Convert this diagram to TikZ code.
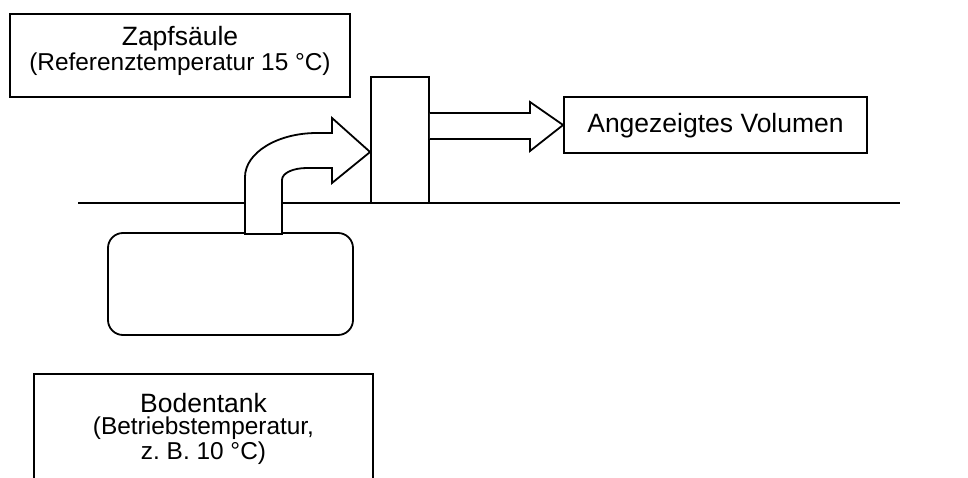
\documentclass[tikz,border=0pt]{standalone}
\usepackage{fontspec}
\setmainfont{Liberation Sans}
\frenchspacing
\begin{document}
\begin{tikzpicture}[x=1pt,y=-1pt,
  line width=1.8pt, line join=miter,
  box/.style={draw, rectangle, inner sep=0pt, line width=1.8pt},
  ttl/.style={inner sep=0pt, font=\fontsize{26.5}{26}\selectfont},
  sub/.style={inner sep=0pt, font=\fontsize{24.4}{25}\selectfont, align=center}]
\useasboundingbox (0,0) rectangle (968,478);
\fill[white] (0,0) rectangle (968,478);
% ground line
\coordinate (gl) at (78,203);
\coordinate (gr) at (900,203);
\draw (gl) -- (gr);
% boxes
\node[box, minimum width=340pt, minimum height=83pt] (zapf) at (180,55.5) {};
\node[ttl] (zapft) at (180,39) {Zapfsäule};
\node[sub] (zapfs) at (180,64) {(Referenztemperatur 15 °C)};
\node[box, fill=white, minimum width=58pt, minimum height=126pt] (meter) at (400,140) {};
\node[box, minimum width=303pt, minimum height=56pt] (vol) at (715.5,125) {};
\node[ttl] (volt) at (715.5,126) {Angezeigtes Volumen};
\node[box, rounded corners=15pt, minimum width=245pt, minimum height=102pt] (tank) at (230.5,284) {};
\node[box, minimum width=339pt, minimum height=120pt] (boden) at (203.5,434) {};
\node[ttl] (bodent) at (203.5,403) {Bodentank};
\node[sub] (bodens) at (203.5,441) {(Betriebstemperatur,\\ z. B. 10 °C)};
% curved arrow from tank into meter
\draw[fill=white] (245,234) -- (245,177)
  .. controls (245,153) and (277,133) .. (317,133)
  -- (332,133) -- (332,118) -- (meter.west |- 0,152) -- (332,183) -- (332,168)
  -- (307,168) .. controls (293,168) and (282,173) .. (282,180)
  -- (282,234) -- cycle;
% straight arrow from meter to volume
\draw[fill=white] (meter.east |- 0,113) -- (530,113) -- (530,102) -- (vol.west) -- (530,151)
  -- (530,139) -- (meter.east |- 0,139);
\end{tikzpicture}
\end{document}
